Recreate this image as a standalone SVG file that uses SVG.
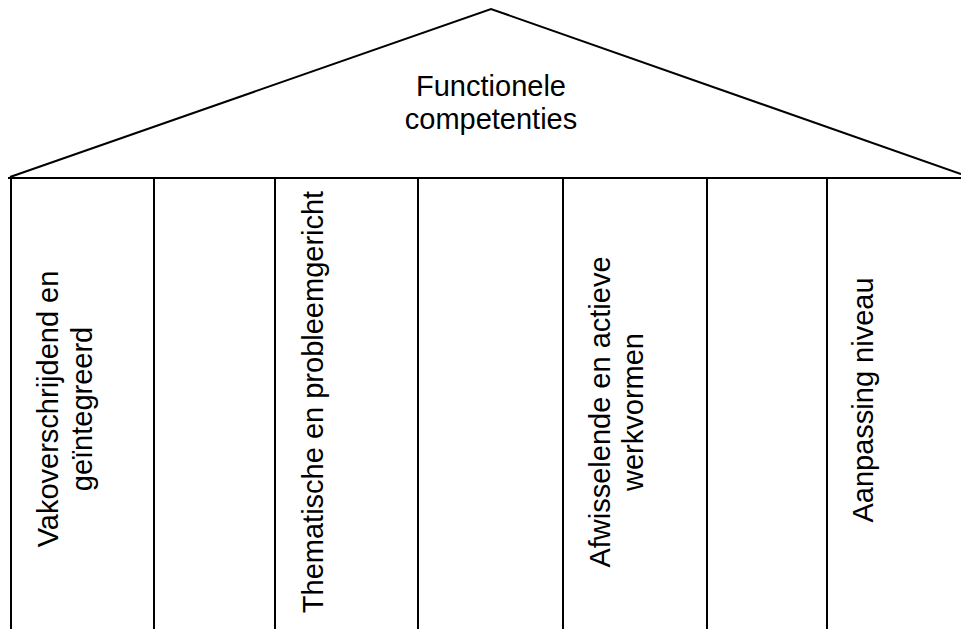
<svg xmlns="http://www.w3.org/2000/svg" width="961" height="629" viewBox="0 0 961 629">
<style>
.ln{stroke:#000;stroke-width:2;fill:none}
.t{font-family:"Liberation Sans",Arial,sans-serif;font-size:29px;fill:#000;text-anchor:middle}
</style>
<rect width="961" height="629" fill="#fff"/>
<g id="roof">
<polyline class="ln" points="10,177 491,9 961,174"/>
<line class="ln" x1="8" y1="178" x2="961" y2="178"/>
<text class="t" x="491" y="96">Functionele</text>
<text class="t" x="491" y="129">competenties</text>
</g>
<g id="pillars">
<line class="ln" x1="11" y1="177" x2="11" y2="629"/>
<line class="ln" x1="154" y1="178" x2="154" y2="629"/>
<line class="ln" x1="275" y1="178" x2="275" y2="629"/>
<line class="ln" x1="418" y1="178" x2="418" y2="629"/>
<line class="ln" x1="563" y1="178" x2="563" y2="629"/>
<line class="ln" x1="707" y1="178" x2="707" y2="629"/>
<line class="ln" x1="827" y1="178" x2="827" y2="629"/>
</g>
<g id="col1" transform="translate(0,409) rotate(-90)">
<text class="t" x="0" y="58">Vakoverschrijdend en</text>
<text class="t" x="0" y="92">geïntegreerd</text>
</g>
<g id="col3" transform="translate(0,402) rotate(-90)">
<text class="t" x="0" y="323">Thematische en probleemgericht</text>
</g>
<g id="col5" transform="translate(0,412) rotate(-90)">
<text class="t" x="0" y="610">Afwisselende en actieve</text>
<text class="t" x="0" y="643">werkvormen</text>
</g>
<g id="col7" transform="translate(0,400) rotate(-90)">
<text class="t" x="0" y="873">Aanpassing niveau</text>
</g>
</svg>
